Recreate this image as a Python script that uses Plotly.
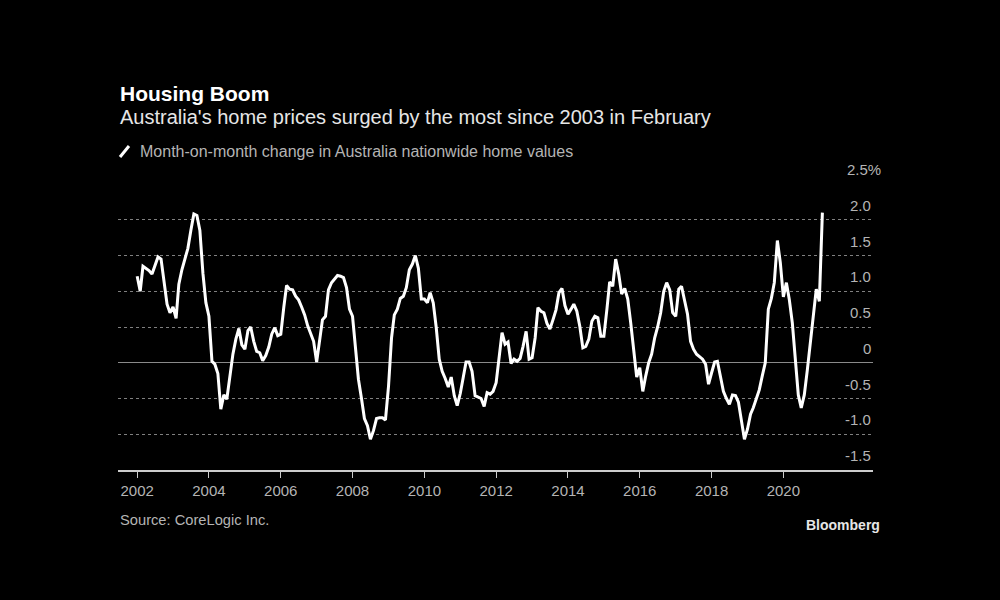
import pandas as pd
import plotly.graph_objects as go

# Month-on-month change (%) in Australia nationwide home values, Jan 2002 .. Feb 2021
start_month = "2002-01-01"
mom_change = [
    1.21, 1.00, 1.35, 1.32, 1.29, 1.24, 1.36, 1.48, 1.45, 1.17,
    0.82, 0.70, 0.78, 0.62, 1.10, 1.30, 1.45, 1.60, 1.85, 2.08,
    2.06, 1.85, 1.25, 0.84, 0.65, 0.02, -0.02, -0.15, -0.65, -0.45,
    -0.51, -0.19, 0.12, 0.33, 0.48, 0.25, 0.19, 0.45, 0.50, 0.30,
    0.16, 0.14, 0.03, 0.10, 0.22, 0.40, 0.49, 0.38, 0.40, 0.78,
    1.08, 1.03, 1.02, 0.93, 0.88, 0.78, 0.67, 0.52, 0.40, 0.30,
    0.01, 0.30, 0.60, 0.65, 1.02, 1.12, 1.17, 1.22, 1.21, 1.19,
    1.05, 0.75, 0.65, 0.22, -0.23, -0.50, -0.78, -0.88, -1.07, -0.95,
    -0.78, -0.77, -0.77, -0.80, -0.33, 0.35, 0.67, 0.75, 0.90, 0.93,
    1.05, 1.30, 1.38, 1.50, 1.32, 0.89, 0.89, 0.84, 0.98, 0.84,
    0.50, 0.05, -0.12, -0.22, -0.34, -0.20, -0.46, -0.60, -0.43, -0.20,
    0.01, 0.01, -0.12, -0.46, -0.48, -0.50, -0.61, -0.42, -0.44, -0.40,
    -0.28, 0.09, 0.42, 0.26, 0.29, -0.01, 0.05, 0.02, 0.06, 0.23,
    0.44, 0.05, 0.07, 0.35, 0.77, 0.72, 0.70, 0.55, 0.47, 0.60,
    0.74, 0.98, 1.04, 0.80, 0.68, 0.75, 0.82, 0.72, 0.51, 0.21,
    0.23, 0.33, 0.58, 0.65, 0.63, 0.37, 0.37, 0.75, 1.13, 1.07,
    1.45, 1.24, 0.96, 1.04, 0.89, 0.56, 0.19, -0.20, -0.07, -0.40,
    -0.19, 0.00, 0.12, 0.35, 0.50, 0.70, 1.00, 1.12, 1.02, 0.70,
    0.65, 1.03, 1.07, 0.89, 0.68, 0.30, 0.19, 0.12, 0.08, 0.05,
    -0.02, -0.30, -0.14, 0.01, 0.02, -0.19, -0.40, -0.50, -0.58, -0.45,
    -0.46, -0.55, -0.80, -1.07, -0.93, -0.72, -0.63, -0.50, -0.38, -0.18,
    0.00, 0.75, 0.90, 1.12, 1.71, 1.40, 0.92, 1.12, 0.89, 0.56,
    0.09, -0.45, -0.63, -0.45, -0.10, 0.30, 0.72, 1.03, 0.86, 2.10,
]
dates = pd.date_range(start_month, periods=len(mom_change), freq="MS")

x_tick_years = [2002, 2004, 2006, 2008, 2010, 2012, 2014, 2016, 2018, 2020]
y_tick_values = [-1.5, -1.0, -0.5, 0, 0.5, 1.0, 1.5, 2.0, 2.5]
y_tick_labels = ["-1.5", "-1.0", "-0.5", "0", "0.5", "1.0", "1.5", "2.0", "2.5%"]

title = "Housing Boom"
subtitle = "Australia's home prices surged by the most since 2003 in February"
legend_text = "Month-on-month change in Australia nationwide home values"
source_text = "Source: CoreLogic Inc."
brand = "Bloomberg"

FONT = "Liberation Sans, Arial, sans-serif"
GREY = "#b4b4b4"

fig = go.Figure()
fig.add_trace(go.Scatter(
    x=dates, y=mom_change, mode="lines",
    line=dict(color="white", width=3),
    showlegend=False, hoverinfo="x+y",
))

fig.update_layout(
    width=1000, height=600,
    paper_bgcolor="black", plot_bgcolor="black",
    margin=dict(l=118, r=127, t=184, b=130),
    font=dict(family=FONT, color=GREY, size=14),
    showlegend=False,
)
fig.update_xaxes(
    range=["2001-06-20", "2022-07-01"],
    tickvals=[pd.Timestamp(f"{y}-01-01") for y in x_tick_years],
    ticktext=[str(y) for y in x_tick_years],
    ticks="outside", ticklen=6, tickwidth=1, tickcolor="#cccccc",
    showline=True, linecolor="#cccccc", linewidth=1.5,
    showgrid=False, zeroline=False,
    tickfont=dict(size=15, color=GREY, family=FONT),
)
fig.update_yaxes(
    range=[-1.5, 2.5],
    tickvals=y_tick_values, showticklabels=False,
    showgrid=True, gridcolor="#808080", gridwidth=1, griddash="dot",
    zeroline=True, zerolinecolor="#8a8a8a", zerolinewidth=1,
    showline=False, ticks="",
)

annotations = []
for v, lab in zip(y_tick_values, y_tick_labels):
    annotations.append(dict(
        x=1, xref="paper", y=v, yref="y", text=lab, showarrow=False,
        xanchor="right", yanchor="bottom", yshift=4,
        xshift=10 if lab.endswith("%") else 0,
        font=dict(size=15, color=GREY, family=FONT),
    ))
annotations += [
    dict(x=0, xref="paper", y=93, yref="paper", text=f"<b>{title}</b>", showarrow=False,
         xanchor="left", yanchor="middle", font=dict(size=21, color="white", family=FONT)),
    dict(x=0, xref="paper", y=117, yref="paper", text=subtitle, showarrow=False,
         xanchor="left", yanchor="middle", font=dict(size=20, color="#e6e6e6", family=FONT)),
    dict(x=0, xref="paper", y=151, yref="paper", text=legend_text, showarrow=False,
         xanchor="left", yanchor="middle", xshift=20, font=dict(size=16, color=GREY, family=FONT)),
    dict(x=0, xref="paper", y=520, yref="paper", text=source_text, showarrow=False,
         xanchor="left", yanchor="middle", font=dict(size=14.7, color=GREY, family=FONT)),
    dict(x=1, xref="paper", y=525, yref="paper", text=f"<b>{brand}</b>", showarrow=False,
         xanchor="right", yanchor="middle", xshift=9, font=dict(size=14, color="#e6e6e6", family=FONT)),
]
# convert pixel rows to paper coordinates for header/footer annotations
plot_top, plot_bottom = 184, 470
for a in annotations:
    if a["yref"] == "paper":
        a["y"] = (plot_bottom - a["y"]) / (plot_bottom - plot_top)
fig.update_layout(annotations=annotations)

# legend swatch: short diagonal white stroke
fig.add_shape(type="line", xref="paper", yref="paper",
              x0=(120 - 118) / 755, x1=(129 - 118) / 755,
              y0=(plot_bottom - 157) / 286, y1=(plot_bottom - 146) / 286,
              line=dict(color="white", width=3))

fig.write_html("out.html")
